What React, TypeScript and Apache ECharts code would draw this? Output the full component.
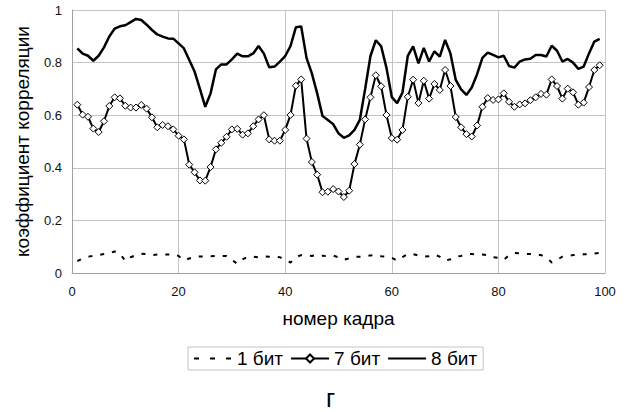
import React, { useEffect, useRef } from "react";
import * as echarts from "echarts";

const frames: number[] = Array.from({ length: 99 }, (_, k) => k + 1);

const bit1: number[] = [
  0.045, 0.055, 0.062, 0.065, 0.068, 0.072, 0.075, 0.082, 0.075, 0.045,
  0.060, 0.068, 0.073, 0.072, 0.068, 0.070, 0.071, 0.070, 0.072, 0.065,
  0.048, 0.055, 0.062, 0.063, 0.063, 0.064, 0.065, 0.064, 0.065, 0.050,
  0.035, 0.052, 0.062, 0.062, 0.060, 0.063, 0.062, 0.062, 0.060, 0.050,
  0.040, 0.060, 0.068, 0.066, 0.065, 0.068, 0.066, 0.063, 0.066, 0.060,
  0.050, 0.056, 0.061, 0.062, 0.063, 0.067, 0.068, 0.064, 0.062, 0.058,
  0.047, 0.060, 0.072, 0.072, 0.066, 0.062, 0.064, 0.070, 0.062, 0.047,
  0.052, 0.063, 0.065, 0.072, 0.072, 0.070, 0.070, 0.068, 0.060, 0.058,
  0.050, 0.068, 0.076, 0.075, 0.073, 0.072, 0.070, 0.068, 0.060, 0.040,
  0.050, 0.062, 0.064, 0.068, 0.070, 0.071, 0.072, 0.074, 0.076,
];

const bit7: number[] = [
  0.640, 0.602, 0.594, 0.549, 0.536, 0.577, 0.635, 0.668, 0.664, 0.636,
  0.629, 0.629, 0.639, 0.625, 0.592, 0.554, 0.563, 0.558, 0.546, 0.522,
  0.508, 0.412, 0.383, 0.352, 0.351, 0.403, 0.470, 0.495, 0.518, 0.546,
  0.548, 0.526, 0.531, 0.558, 0.584, 0.600, 0.508, 0.503, 0.503, 0.544,
  0.601, 0.712, 0.736, 0.511, 0.422, 0.374, 0.307, 0.309, 0.319, 0.310,
  0.289, 0.313, 0.414, 0.488, 0.584, 0.668, 0.752, 0.710, 0.601, 0.513,
  0.507, 0.544, 0.670, 0.735, 0.646, 0.731, 0.663, 0.719, 0.696, 0.772,
  0.711, 0.593, 0.554, 0.528, 0.519, 0.561, 0.632, 0.665, 0.658, 0.660,
  0.683, 0.651, 0.632, 0.641, 0.645, 0.657, 0.668, 0.681, 0.678, 0.736,
  0.711, 0.663, 0.701, 0.687, 0.640, 0.648, 0.707, 0.772, 0.790,
];

const bit8: number[] = [
  0.854, 0.834, 0.826, 0.807, 0.826, 0.858, 0.899, 0.929, 0.938, 0.942,
  0.954, 0.966, 0.962, 0.944, 0.924, 0.907, 0.899, 0.892, 0.891, 0.873,
  0.854, 0.810, 0.766, 0.700, 0.632, 0.683, 0.774, 0.793, 0.793, 0.812,
  0.834, 0.824, 0.824, 0.835, 0.863, 0.834, 0.782, 0.785, 0.804, 0.825,
  0.863, 0.934, 0.937, 0.818, 0.759, 0.683, 0.597, 0.582, 0.566, 0.531,
  0.514, 0.523, 0.544, 0.582, 0.700, 0.825, 0.885, 0.862, 0.780, 0.669,
  0.646, 0.686, 0.826, 0.862, 0.797, 0.856, 0.804, 0.843, 0.823, 0.886,
  0.835, 0.734, 0.698, 0.677, 0.705, 0.756, 0.818, 0.838, 0.829, 0.820,
  0.826, 0.787, 0.781, 0.804, 0.812, 0.815, 0.829, 0.829, 0.823, 0.864,
  0.845, 0.804, 0.814, 0.800, 0.776, 0.785, 0.835, 0.880, 0.890,
];

const seriesNames: string[] = ["1 бит", "7 бит", "8 бит"];
const xTitle = "номер кадра";
const yTitle = "коэффициент корреляции";
const caption = "г";

const FONT = "'Liberation Sans', Arial, sans-serif";

export default function App() {
  const ref = useRef<HTMLDivElement>(null);
  useEffect(() => {
    document.body.style.margin = "0";
    if (!ref.current) return;
    const chart = echarts.init(ref.current, null, { renderer: "svg" });
    const pairs = (vals: number[]) => frames.map((f, k) => [f, vals[k]]);
    chart.setOption({
      animation: false,
      backgroundColor: "#ffffff",
      textStyle: { fontFamily: FONT, color: "#000" },
      grid: { left: 72, right: 24, top: 10, bottom: 139, containLabel: false },
      xAxis: {
        type: "value",
        min: 0,
        max: 100,
        interval: 20,
        name: xTitle,
        nameLocation: "middle",
        nameGap: 36,
        nameTextStyle: { fontSize: 19, color: "#000", fontFamily: FONT },
        axisLine: { show: true, lineStyle: { color: "#a0a0a0", width: 1 } },
        axisTick: { show: false },
        axisLabel: { fontSize: 13, color: "#111", margin: 12, fontFamily: FONT },
        splitLine: { show: true, lineStyle: { color: "#c4c4c4", width: 1 } },
      },
      yAxis: {
        type: "value",
        min: 0,
        max: 1,
        interval: 0.2,
        name: yTitle,
        nameLocation: "middle",
        nameGap: 40,
        nameTextStyle: { fontSize: 19, color: "#000", fontFamily: FONT },
        axisLine: { show: true, lineStyle: { color: "#a0a0a0", width: 1 } },
        axisTick: { show: false },
        axisLabel: { fontSize: 13, color: "#111", margin: 10, fontFamily: FONT },
        splitLine: { show: true, lineStyle: { color: "#c4c4c4", width: 1 } },
      },
      legend: {
        left: 188,
        top: 347,
        orient: "horizontal",
        padding: [2, 6, 2, 5],
        itemGap: 7,
        itemWidth: 38,
        itemHeight: 10,
        borderColor: "#c4c4c4",
        borderWidth: 1,
        backgroundColor: "#fff",
        textStyle: { fontSize: 19, color: "#000", fontFamily: FONT },
        data: [
          {
            name: seriesNames[0],
            itemStyle: { opacity: 0 },
            lineStyle: { type: [5, 11], width: 2 },
          },
          { name: seriesNames[1] },
          { name: seriesNames[2], itemStyle: { opacity: 0 } },
        ],
      },
      graphic: [
        {
          type: "text",
          left: 326,
          top: 385,
          style: { text: caption, fontSize: 25, fill: "#000", fontFamily: FONT },
        },
      ],
      series: [
        {
          name: seriesNames[0],
          type: "line",
          data: pairs(bit1),
          symbol: "none",
          color: "#000",
          lineStyle: { color: "#000", width: 2, type: [4, 8] },
        },
        {
          name: seriesNames[1],
          type: "line",
          data: pairs(bit7),
          symbol: "diamond",
          symbolSize: 7,
          showSymbol: true,
          color: "#000",
          itemStyle: { color: "#fff", borderColor: "#000", borderWidth: 1 },
          lineStyle: { color: "#000", width: 2 },
        },
        {
          name: seriesNames[2],
          type: "line",
          data: pairs(bit8),
          symbol: "none",
          color: "#000",
          lineStyle: { color: "#000", width: 2.5 },
        },
      ],
    });
    return () => chart.dispose();
  }, []);
  return <div ref={ref} style={{ width: 629, height: 412 }} />;
}
